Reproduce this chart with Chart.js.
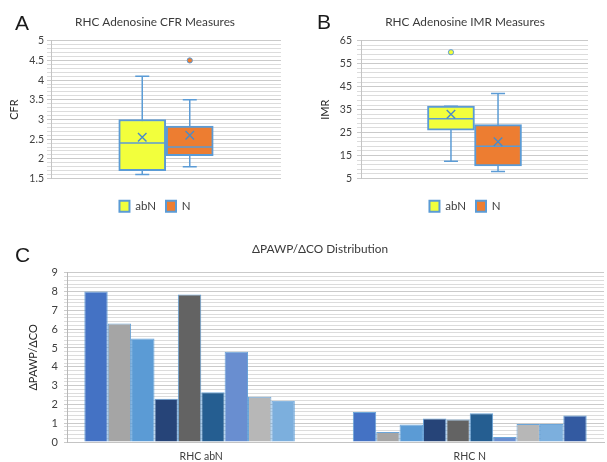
<!DOCTYPE html>
<html><head><meta charset="utf-8">
<script src="https://cdn.jsdelivr.net/npm/chart.js@4.4.1/dist/chart.umd.min.js"></script>
<style>
html,body{margin:0;padding:0;background:#fff;width:607px;height:462px;overflow:hidden;}
.wrap{position:relative;width:607px;height:462px;overflow:hidden;}
canvas{position:absolute;}
.lbl{position:absolute;font-family:"Liberation Sans",Arial,sans-serif;font-size:21px;line-height:1;color:#1a1a1a;}
</style></head><body>
<div class="wrap">
<canvas id="cA" width="305" height="220" style="left:0;top:0;width:305px;height:220px"></canvas>
<canvas id="cB" width="299" height="220" style="left:313px;top:0;width:299px;height:220px"></canvas>
<canvas id="cC" width="595" height="232" style="left:20px;top:230px;width:595px;height:232px"></canvas>
<div class="lbl" style="left:15px;top:12px">A</div>
<div class="lbl" style="left:317px;top:11px">B</div>
<div class="lbl" style="left:15px;top:244px">C</div>
</div>
<script>
// ---------- DATA ----------
const boxGroups = ['abN', 'N'];

// Panel A: RHC Adenosine CFR
const cfrMin     = [1.6, 1.8];
const cfrQ1      = [1.7, 2.08];
const cfrMedian  = [2.4, 2.3];
const cfrQ3      = [3.0, 2.83];
const cfrMax     = [4.1, 3.5];
const cfrMean    = [2.55, 2.6];
const cfrOutliers = [[], [4.5]];
const cfrTickValues = [1.5, 2, 2.5, 3, 3.5, 4, 4.5, 5];

// Panel B: RHC Adenosine IMR
const imrMin     = [12.5, 8];
const imrQ1      = [26, 10.5];
const imrMedian  = [31, 19];
const imrQ3      = [36.5, 28.5];
const imrMax     = [36.5, 42];
const imrMean    = [33, 21];
const imrOutliers = [[60], []];
const imrTickValues = [5, 15, 25, 35, 45, 55, 65];

// Panel C: ΔPAWP/ΔCO distribution
const deltaCategories = ['RHC abN', 'RHC N'];
const seriesNames = ['1', '2', '3', '4', '5', '6', '7', '8', '9', '10'];
const deltaAbN = [8.0, 6.3, 5.5, 2.3, 7.85, 2.65, 4.8, 2.4, 2.2, null];
const deltaN   = [1.6, 0.53, 0.93, 1.25, 1.2, 1.53, 0.27, 0.96, 0.96, 1.41];
const deltaTickValues = [0, 1, 2, 3, 4, 5, 6, 7, 8, 9];

// ---------- STYLE ----------
const FONT = 'Lato, "Open Sans", "DejaVu Sans", sans-serif';
Chart.defaults.font.family = FONT;
Chart.defaults.color = '#404040';
const BLUE = '#5B9BD5';
const BOX_FILL = ['#F2FF3C', '#ED7D31'];
const MAJOR = '#cacaca';
const MINOR = '#dcdcdc';
const seriesColors = ['#4472C4','#A5A5A5','#5B9BD5','#264478','#636363','#255E91','#698ED0','#B7B7B7','#7CAFDD','#335AA1'];

function isMajor(list, v) { return list.some(t => Math.abs(t - v) < 1e-6); }

function boxChart(id, s) {
  const datasets = [];
  boxGroups.forEach((g, i) => {
    const x = i + 1;
    datasets.push({ type: 'line', label: g + ' whisker', data: [{x, y: s.min[i]}, {x, y: s.max[i]}],
      borderColor: BLUE, borderWidth: 1.5, pointRadius: 0, order: 6 });
    datasets.push({ type: 'line', label: g + ' caps', data: [{x, y: s.min[i]}, {x, y: s.max[i]}],
      showLine: false, pointStyle: 'line', pointRadius: 7, pointBorderColor: BLUE, pointBorderWidth: 1.5, order: 5 });
    datasets.push({ type: 'bar', label: g, isBox: true, data: [{x, y: [s.q1[i], s.q3[i]]}],
      backgroundColor: BOX_FILL[i], borderColor: BLUE, borderWidth: 2, borderSkipped: false,
      barThickness: 47, grouped: false, order: 4 });
    datasets.push({ type: 'line', label: g + ' median', data: [{x, y: s.median[i]}],
      showLine: false, pointStyle: 'line', pointRadius: 22.5, pointBorderColor: BLUE, pointBorderWidth: 1.5, order: 3 });
    datasets.push({ type: 'line', label: g + ' mean', data: [{x, y: s.mean[i]}],
      showLine: false, pointStyle: 'crossRot', pointRadius: 6, pointBorderColor: '#4a8bc9', pointBorderWidth: 1.4, order: 2 });
    datasets.push({ type: 'line', label: g + ' outliers', data: s.outliers[i].map(y => ({x, y})),
      showLine: false, pointStyle: 'circle', pointRadius: 2.6, pointBackgroundColor: BOX_FILL[i],
      pointBorderColor: BLUE, pointBorderWidth: 1, order: 1 });
  });
  return new Chart(document.getElementById(id), {
    type: 'bar',
    data: { datasets },
    options: {
      responsive: false, animation: false, events: [],
      layout: { padding: { left: s.padLeft, right: s.padRight, top: 0, bottom: -2 } },
      plugins: {
        tooltip: { enabled: false },
        title: { display: true, text: s.title, color: '#3a3a3a',
          font: { size: 11.8, weight: 'normal' }, padding: { top: 15, bottom: 11.6 } },
        legend: { display: true, position: 'bottom',
          labels: { filter: (item, data) => !!data.datasets[item.datasetIndex].isBox,
            boxWidth: 10, boxHeight: 11, padding: 10, color: '#404040', font: { size: 11.5 } } }
      },
      scales: {
        x: { type: 'linear', min: s.xMin, max: s.xMax, offset: false,
          ticks: { display: false }, grid: { display: false, drawTicks: false }, border: { display: false },
          afterFit: sc => { sc.height = 12; } },
        y: { type: 'linear', min: s.yMin, max: s.yMax,
          ticks: { stepSize: s.step, autoSkip: false, padding: s.tickPad, color: '#404040', font: { size: 10.5 },
            callback: v => isMajor(s.ticks, v) ? String(v) : '' },
          grid: { color: c => isMajor(s.ticks, c.tick.value) ? MAJOR : MINOR, tickLength: 4, lineWidth: 1 },
          border: { display: true, color: '#c4c4c4' },
          title: { display: true, text: s.yTitle, color: '#262626', font: { size: 11 }, padding: { top: s.titlePad, bottom: 0 } },
          afterFit: sc => { sc.width = s.axisW; } }
      }
    }
  });
}

boxChart('cA', { min: cfrMin, q1: cfrQ1, median: cfrMedian, q3: cfrQ3, max: cfrMax, mean: cfrMean, outliers: cfrOutliers,
  ticks: cfrTickValues, yMin: 1.5, yMax: 5, step: 0.1, title: 'RHC Adenosine CFR Measures', yTitle: 'CFR',
  xMin: -0.92, xMax: 3.92, axisW: 41, padLeft: 10, padRight: 5, tickPad: 3, titlePad: -2.6 });

boxChart('cB', { min: imrMin, q1: imrQ1, median: imrMedian, q3: imrQ3, max: imrMax, mean: imrMean, outliers: imrOutliers,
  ticks: imrTickValues, yMin: 5, yMax: 65, step: 2, title: 'RHC Adenosine IMR Measures', yTitle: 'IMR',
  xMin: -0.912, xMax: 3.912, axisW: 38, padLeft: 10, padRight: 5, tickPad: 5, titlePad: -4.6 });

new Chart(document.getElementById('cC'), {
  type: 'bar',
  data: {
    labels: deltaCategories,
    datasets: seriesNames.map((name, i) => ({
      label: name, data: [deltaAbN[i], deltaN[i]],
      backgroundColor: seriesColors[i], borderColor: 'rgba(91,155,213,0.9)', borderWidth: 1,
      categoryPercentage: 0.871, barPercentage: 1
    }))
  },
  options: {
    responsive: false, animation: false, events: [],
    layout: { padding: { left: 16, right: 11, top: 0, bottom: 0 } },
    plugins: {
      tooltip: { enabled: false },
      legend: { display: false },
      title: { display: true, text: 'ΔPAWP/ΔCO Distribution', color: '#3a3a3a',
        font: { size: 11.8, weight: 'normal' }, padding: { top: 11.8, bottom: 16.8 } }
    },
    scales: {
      x: { type: 'category', grid: { display: false, drawTicks: false }, border: { display: true, color: '#c4c4c4' },
        ticks: { padding: 8, color: '#404040', font: { size: 10.5 } },
        afterFit: sc => { sc.height = 20; } },
      y: { type: 'linear', min: 0, max: 9,
        ticks: { stepSize: 0.2, autoSkip: false, padding: 6, color: '#404040', font: { size: 11 },
          callback: v => isMajor(deltaTickValues, v) ? String(v) : '' },
        grid: { color: c => isMajor(deltaTickValues, c.tick.value) ? MAJOR : MINOR, tickLength: 3 },
        border: { display: true, color: '#b8b8b8' },
        title: { display: true, text: 'ΔPAWP/ΔCO', color: '#262626', font: { size: 11 }, padding: { top: -9.6, bottom: 0 } },
        afterFit: sc => { sc.width = 31; } }
    }
  }
});
</script>
</body></html>
